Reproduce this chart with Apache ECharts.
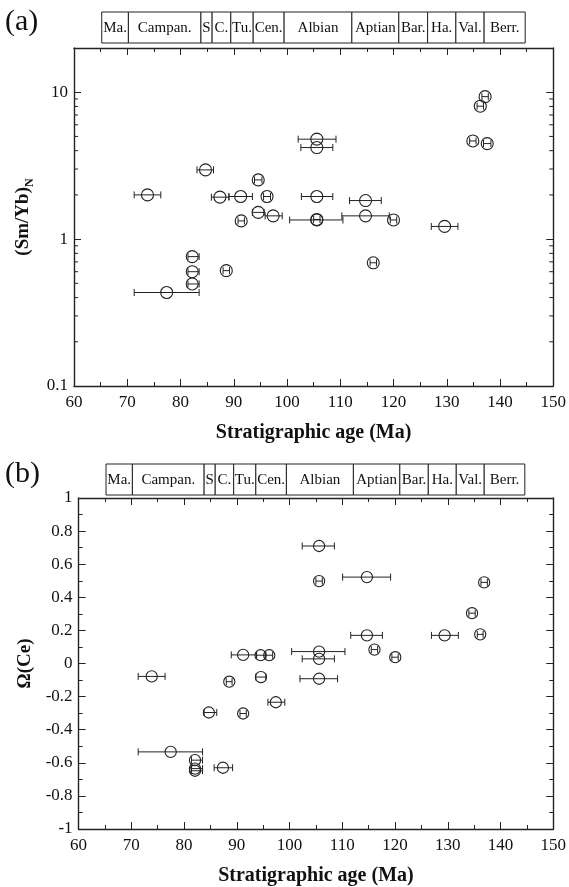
<!DOCTYPE html>
<html>
<head>
<meta charset="utf-8">
<script src="https://cdn.jsdelivr.net/npm/echarts@6/dist/echarts.min.js"></script>
<style>
  html, body { margin: 0; padding: 0; background: #fff; }
  #chart { width: 569px; height: 887px; }
</style>
</head>
<body>
<div id="chart"></div>
<script>
// stage boxes above each panel (Ma)
const stageEdges = [65.2, 70.2, 83.8, 85.9, 89.4, 93.6, 99.4, 112.1, 120.9, 126.3, 131.6, 136.9, 144.6];
const stageNames = ["Ma.", "Campan.", "S", "C.", "Tu.", "Cen.", "Albian", "Aptian", "Bar.", "Ha.", "Val.", "Berr."];

const xTicks = [60, 150, 10];          // min, max, step
const logMinorTicks = [0.2, 0.3, 0.4, 0.5, 0.6, 0.7, 0.8, 0.9, 2, 3, 4, 5, 6, 7, 8, 9];

// panel (a): (Sm/Yb)N vs age, with age ranges
const ageA    = [73.8, 84.7, 94.6, 87.4, 91.3, 96.25, 94.6, 97.4, 91.4, 82.2, 82.2, 82.2, 88.6, 77.4,
                 105.6, 105.6, 105.6, 105.6, 105.6, 114.75, 114.75, 120.0, 116.2, 129.6, 137.2, 136.3, 134.9, 137.6];
const ageLoA  = [71.3, 83.1, 93.9, 85.8, 89.1, 95.6, 93.5, 95.9, 90.8, 81.4, 81.4, 81.4, 88.0, 71.3,
                 102.1, 102.6, 102.7, 100.5, 105.0, 111.75, 110.3, 119.4, 115.6, 127.1, 136.6, 135.7, 134.3, 136.9];
const ageHiA  = [76.3, 86.2, 95.3, 89.1, 93.5, 96.9, 95.7, 99.1, 92.0, 83.5, 83.5, 83.5, 89.2, 83.5,
                 109.2, 108.6, 108.6, 110.5, 106.2, 117.7, 119.2, 120.6, 116.8, 132.1, 137.8, 136.9, 135.5, 138.3];
const smYb    = [2.0, 2.96, 2.53, 1.93, 1.95, 1.95, 1.52, 1.44, 1.33, 0.76, 0.60, 0.495, 0.61, 0.433,
                 4.79, 4.20, 1.95, 1.35, 1.36, 1.83, 1.44, 1.35, 0.69, 1.22, 9.33, 8.03, 4.66, 4.47];

// panel (b): Ω(Ce) vs age
const ageB    = [73.86, 77.46, 82.07, 82.07, 82.07, 87.37, 84.7, 91.2, 88.57, 94.58, 97.4, 91.2, 94.5, 96.15,
                 105.6, 105.6, 114.67, 136.9, 134.6, 136.15, 129.4, 114.67, 116.1, 120.04, 105.6, 105.6, 105.6];
const ageLoB  = [71.3, 71.3, 81.4, 81.4, 81.4, 85.7, 83.8, 90.6, 88.0, 93.6, 95.9, 88.95, 93.7, 95.5,
                 102.4, 105.0, 110.06, 136.3, 134.0, 135.6, 126.9, 111.6, 115.5, 119.4, 100.4, 102.4, 101.97];
const ageHiB  = [76.4, 83.5, 83.5, 83.5, 83.5, 89.2, 86.2, 91.8, 89.1, 95.5, 99.1, 93.76, 95.4, 96.8,
                 108.5, 106.2, 119.16, 137.5, 135.2, 136.7, 132.0, 117.6, 116.7, 120.6, 110.5, 108.5, 109.1];
const omegaCe = [-0.078, -0.534, -0.584, -0.635, -0.648, -0.630, -0.296, -0.302, -0.110, -0.082, -0.234, 0.052, 0.050, 0.050,
                 0.710, 0.498, 0.522, 0.490, 0.304, 0.176, 0.170, 0.170, 0.084, 0.038, 0.072, 0.028, -0.092];

const FONT = '"Liberation Serif", "DejaVu Serif", serif';
const INK = "#222";

const chart = echarts.init(document.getElementById("chart"), null, { renderer: "canvas" });

function stageSeries(xi, yi) {
  const data = stageNames.map((n, i) => [stageEdges[i], stageEdges[i + 1]]);
  return {
    type: "custom", xAxisIndex: xi, yAxisIndex: yi, data: data, silent: true,
    renderItem: (params, api) => {
      const a = api.coord([api.value(0), 1]);
      const b = api.coord([api.value(1), 0]);
      return {
        type: "group",
        children: [
          { type: "rect", shape: { x: a[0], y: a[1], width: b[0] - a[0], height: b[1] - a[1] },
            style: { fill: "#fff", stroke: INK, lineWidth: 1 } },
          { type: "text", style: { text: stageNames[params.dataIndex], x: (a[0] + b[0]) / 2, y: (a[1] + b[1]) / 2 + 1,
            align: "center", verticalAlign: "middle", font: "15px " + FONT, fill: "#111" } }
        ]
      };
    }
  };
}

function pointSeries(xi, yi, age, lo, hi, val, r) {
  const data = age.map((a, i) => [a, lo[i], hi[i], val[i]]);
  return {
    type: "custom", xAxisIndex: xi, yAxisIndex: yi, data: data, silent: true,
    renderItem: (params, api) => {
      const p = api.coord([api.value(0), api.value(3)]);
      const l = api.coord([api.value(1), api.value(3)]);
      const h = api.coord([api.value(2), api.value(3)]);
      const st = { stroke: INK, lineWidth: 1, fill: null };
      return {
        type: "group",
        children: [
          { type: "line", shape: { x1: l[0], y1: l[1], x2: h[0], y2: h[1] }, style: st },
          { type: "line", shape: { x1: l[0], y1: l[1] - 3.5, x2: l[0], y2: l[1] + 3.5 }, style: st },
          { type: "line", shape: { x1: h[0], y1: h[1] - 3.5, x2: h[0], y2: h[1] + 3.5 }, style: st },
          { type: "circle", shape: { cx: p[0], cy: p[1], r: r }, style: { stroke: INK, lineWidth: 1.1, fill: "rgba(0,0,0,0)" } }
        ]
      };
    }
  };
}

// minor ticks 2..9 on the log axis, both sides, pointing inward
function logMinorSeries(xi, yi) {
  return {
    type: "custom", xAxisIndex: xi, yAxisIndex: yi, data: logMinorTicks.map((v) => [v]), silent: true,
    renderItem: (params, api) => {
      const v = api.value(0);
      const L = api.coord([xTicks[0], v]);
      const R = api.coord([xTicks[1], v]);
      const st = { stroke: INK, lineWidth: 1 };
      return {
        type: "group",
        children: [
          { type: "line", shape: { x1: L[0], y1: L[1], x2: L[0] + 4, y2: L[1] }, style: st },
          { type: "line", shape: { x1: R[0], y1: R[1], x2: R[0] - 4, y2: R[1] }, style: st }
        ]
      };
    }
  };
}

const axisLine = { show: true, onZero: false, lineStyle: { color: INK, width: 1.4 } };
const tick = { show: true, inside: true, length: 7, lineStyle: { color: INK, width: 1 } };
const minor = { show: true, splitNumber: 2, length: 4, lineStyle: { color: INK, width: 1 } };
const label = { color: "#111", fontFamily: FONT, fontSize: 17 };
const hidden = { show: false };

function plotX(gi, pos, withLabels) {
  return {
    type: "value", gridIndex: gi, position: pos, min: xTicks[0], max: xTicks[1], interval: xTicks[2],
    axisLine: axisLine, axisTick: tick, minorTick: Object.assign({ inside: true }, minor),
    axisLabel: withLabels ? Object.assign({ margin: 8 }, label) : hidden,
    splitLine: hidden,
    name: withLabels ? "Stratigraphic age (Ma)" : "", nameLocation: "middle", nameGap: 37,
    nameTextStyle: { fontFamily: FONT, fontSize: 20, fontWeight: "bold", color: "#111" }
  };
}
function stageX(gi) {
  return { type: "value", gridIndex: gi, min: xTicks[0], max: xTicks[1], show: false };
}
function stageY(gi) {
  return { type: "value", gridIndex: gi, min: 0, max: 1, show: false };
}

chart.setOption({
  animation: false,
  backgroundColor: "#fff",
  graphic: [
    { type: "text", left: 5, top: 7, style: { text: "(a)", font: "30px " + FONT, fill: "#111" } },
    { type: "text", left: 5, top: 459, style: { text: "(b)", font: "30px " + FONT, fill: "#111" } }
  ],
  grid: [
    { left: 74, right: 15, top: 12, height: 31 },
    { left: 74, right: 15, top: 48, height: 338 },
    { left: 78.6, right: 15.7, top: 464, height: 31 },
    { left: 78.6, right: 15.7, top: 498, height: 334 }
  ],
  xAxis: [
    stageX(0),
    plotX(1, "bottom", true),
    plotX(1, "top", false),
    stageX(2),
    plotX(3, "bottom", true),
    plotX(3, "top", false)
  ],
  yAxis: [
    stageY(0),
    {
      type: "log", gridIndex: 1, position: "left", min: 0.1, max: 20, logBase: 10,
      axisLine: axisLine, axisTick: tick, splitLine: hidden,
      axisLabel: Object.assign({ margin: 6, showMaxLabel: false }, label),
      name: "{b|(Sm/Yb)}{s|N}", nameLocation: "middle", nameGap: 30,
      nameTextStyle: {
        rich: {
          b: { fontFamily: FONT, fontSize: 19, fontWeight: "bold", color: "#111", lineHeight: 26, verticalAlign: "middle" },
          s: { fontFamily: FONT, fontSize: 12, fontWeight: "bold", color: "#111", lineHeight: 14, verticalAlign: "bottom" }
        }
      }
    },
    {
      type: "log", gridIndex: 1, position: "right", min: 0.1, max: 20, logBase: 10,
      axisLine: axisLine, axisTick: tick, splitLine: hidden, axisLabel: hidden
    },
    stageY(2),
    {
      type: "value", gridIndex: 3, position: "left", min: -1, max: 1, interval: 0.2,
      axisLine: axisLine, axisTick: tick, minorTick: Object.assign({ inside: true }, minor), splitLine: hidden,
      axisLabel: Object.assign({ margin: 6 }, label),
      name: "Ω(Ce)", nameLocation: "middle", nameGap: 37,
      nameTextStyle: { fontFamily: FONT, fontSize: 19, fontWeight: "bold", color: "#111" }
    },
    {
      type: "value", gridIndex: 3, position: "right", min: -1, max: 1, interval: 0.2,
      axisLine: axisLine, axisTick: tick, minorTick: Object.assign({ inside: true }, minor), splitLine: hidden,
      axisLabel: hidden
    }
  ],
  series: [
    stageSeries(0, 0),
    logMinorSeries(1, 1),
    pointSeries(1, 1, ageA, ageLoA, ageHiA, smYb, 6),
    stageSeries(3, 3),
    pointSeries(4, 4, ageB, ageLoB, ageHiB, omegaCe, 5.6)
  ]
});
</script>
</body>
</html>
